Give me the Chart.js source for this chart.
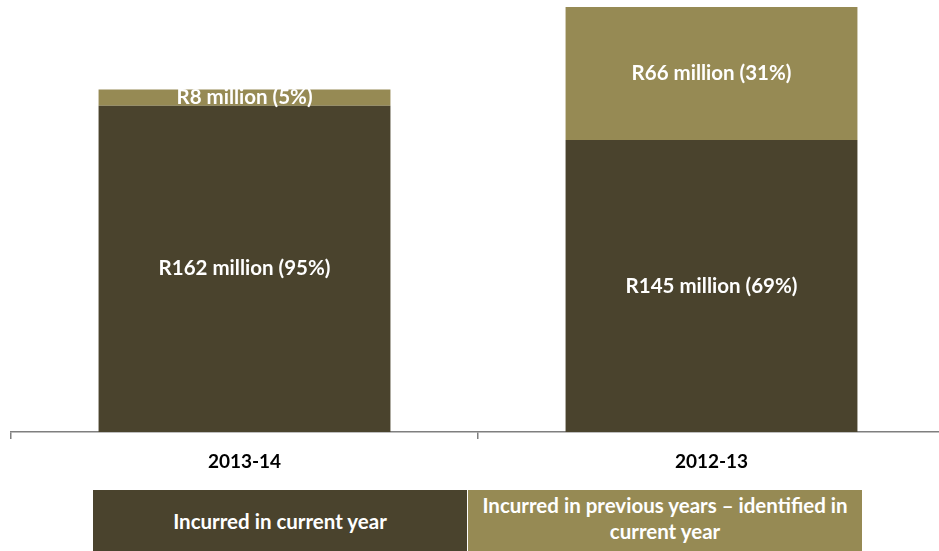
<!DOCTYPE html>
<html>
<head>
<meta charset="utf-8">
<script src="https://cdn.jsdelivr.net/npm/chart.js@4/dist/chart.umd.min.js"></script>
<style>
  html, body { margin: 0; padding: 0; background: #fff; overflow: hidden; width: 939px; height: 551px; }
  #wrap { position: absolute; left: 0; top: 0; width: 945px; height: 490px; }
  .leg { position: absolute; top: 490px; height: 61px; color: #fff; font-family: Lato, "Open Sans", sans-serif; font-weight: bold; font-size: 20.5px; display: flex; align-items: center; justify-content: center; text-align: center; line-height: 26px; box-sizing: border-box; }
</style>
</head>
<body>
<div id="wrap"><canvas id="c" width="945" height="490"></canvas></div>
<div class="leg" id="leg0" style="left:93px; width:374px; background:#4a432d;"></div>
<div class="leg" id="leg1" style="left:468px; width:394px; background:#968a54; padding:0 8px 6px 8px;"></div>
<script>
const categories = ["2013-14", "2012-13"];
const seriesNames = ["Incurred in current year", "Incurred in previous years – identified in current year"];
const currentYear = [162, 145];
const previousYears = [8, 66];
const currentLabels = ["R162 million (95%)", "R145 million (69%)"];
const previousLabels = ["R8 million (5%)", "R66 million (31%)"];
const colors = ["#4a432d", "#968a54"];

document.getElementById('leg0').textContent = seriesNames[0];
document.getElementById('leg1').textContent = seriesNames[1];

const labelPlugin = {
  id: 'segLabels',
  afterDatasetsDraw(chart) {
    const ctx = chart.ctx;
    const texts = [currentLabels, previousLabels];
    ctx.save();
    ctx.fillStyle = '#ffffff';
    ctx.font = 'bold 20.5px Lato, "Open Sans", sans-serif';
    ctx.textAlign = 'center';
    ctx.textBaseline = 'middle';
    chart.data.datasets.forEach((ds, di) => {
      const meta = chart.getDatasetMeta(di);
      meta.data.forEach((bar, i) => {
        const y = (bar.y + bar.base) / 2;
        ctx.fillText(texts[di][i], bar.x, y);
      });
    });
    ctx.restore();
  }
};

new Chart(document.getElementById('c'), {
  type: 'bar',
  data: {
    labels: categories,
    datasets: [
      { label: seriesNames[0], data: currentYear, backgroundColor: colors[0], categoryPercentage: 1, barPercentage: 0.625 },
      { label: seriesNames[1], data: previousYears, backgroundColor: colors[1], categoryPercentage: 1, barPercentage: 0.625 }
    ]
  },
  options: {
    responsive: false,
    animation: false,
    devicePixelRatio: 1,
    layout: { padding: { left: 11, right: 0, top: 0, bottom: 0 } },
    plugins: { legend: { display: false }, tooltip: { enabled: false } },
    scales: {
      x: {
        stacked: true,
        afterFit(scale) { scale.height = 58; },
        grid: { drawOnChartArea: false, drawTicks: true, tickLength: 7, color: '#7f7f7f', lineWidth: 1.5, offset: true },
        border: { display: true, color: '#7f7f7f', width: 1.5 },
        ticks: { color: '#000', font: { family: 'Lato, "Open Sans", sans-serif', weight: 'bold', size: 19 }, padding: 11 }
      },
      y: {
        stacked: true,
        display: false,
        min: 0,
        max: 214.5
      }
    }
  },
  plugins: [labelPlugin]
});
</script>
</body>
</html>
